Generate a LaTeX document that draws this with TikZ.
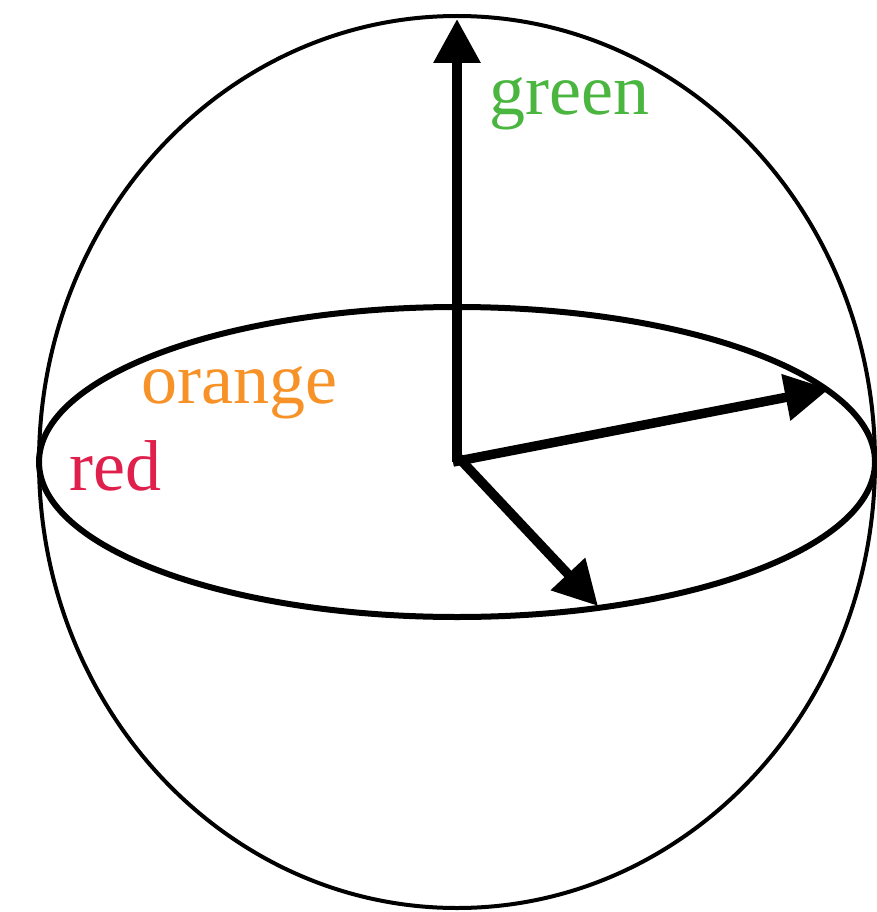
\documentclass[tikz,border=0pt]{standalone}
\usepackage{fontspec}
\setmainfont{Liberation Serif}
\usetikzlibrary{arrows.meta}
\definecolor{cgreen}{RGB}{74,182,64}
\definecolor{corange}{RGB}{247,146,40}
\definecolor{cred}{RGB}{224,32,76}
\tikzset{
  vec/.style={line width=9.5pt,-{Triangle[length=44pt,width=45pt]}},
  lbl/.style={inner sep=0pt,anchor=base west,font=\fontsize{72}{86}\selectfont}
}
\begin{document}
\begin{tikzpicture}[x=1pt,y=-1pt]
\useasboundingbox (0,0) rectangle (877,912);
\coordinate (o) at (457,462);
\coordinate (n) at (457,19);
\coordinate (e) at (829,389);
\coordinate (s) at (598,606);
\draw[line width=4pt] (o) ellipse [x radius=418, y radius=446];
\draw[line width=6pt] (o) ellipse [x radius=418, y radius=155];
\draw[vec] (o) -- (n);
\draw[vec] ([xshift=-4pt]o) -- (e);
\draw[vec] ([yshift=6pt]o) -- (s);
\node[lbl,text=cgreen] (g) at (489,115) {green};
\node[lbl,text=corange] (or) at (141,403) {orange};
\node[lbl,text=cred] (r) at (69,490) {red};
\end{tikzpicture}
\end{document}
